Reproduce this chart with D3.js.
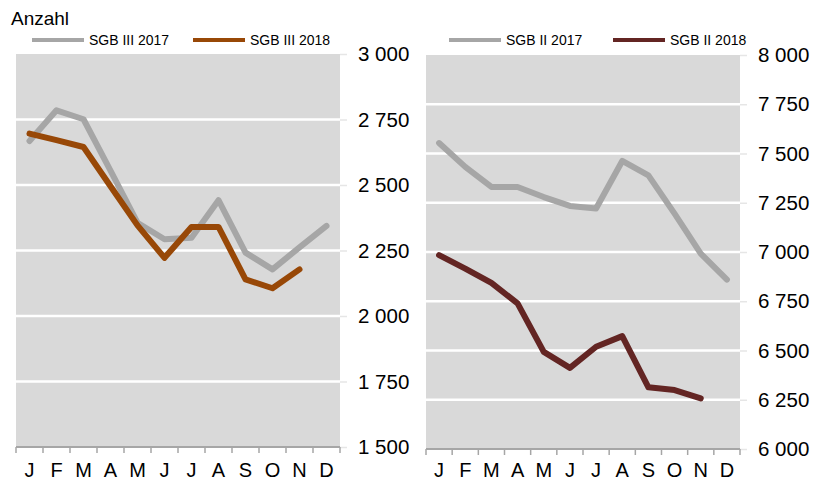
<!DOCTYPE html>
<html>
<head>
<meta charset="utf-8">
<script src="https://cdn.jsdelivr.net/npm/d3@7"></script>
<style>
  html, body { margin: 0; padding: 0; background: #fff; }
  svg { display: block; font-family: "Liberation Sans", Arial, sans-serif; }
</style>
</head>
<body>
<svg id="chart" width="818" height="481"></svg>
<script>
/* ── data ───────────────────────────────────────────── */
const months = ["J", "F", "M", "A", "M", "J", "J", "A", "S", "O", "N", "D"];

const sgb3_2017 = [2668, 2785, 2751, 2555, 2356, 2293, 2299, 2442, 2242, 2178, 2262, 2344];
const sgb3_2018 = [2696, 2671, 2645, 2495, 2346, 2222, 2340, 2340, 2140, 2106, 2178];

const sgb2_2017 = [7553, 7432, 7330, 7330, 7279, 7234, 7221, 7462, 7389, 7195, 6992, 6860];
const sgb2_2018 = [6984, 6916, 6843, 6739, 6493, 6412, 6519, 6573, 6313, 6299, 6257];

const ticksLeft  = [1500, 1750, 2000, 2250, 2500, 2750, 3000];
const ticksRight = [6000, 6250, 6500, 6750, 7000, 7250, 7500, 7750, 8000];

/* ── style ──────────────────────────────────────────── */
const GRAY   = "#a6a6a6";
const ORANGE = "#984807";
const DARKRED = "#632523";
const BG     = "#d9d9d9";

const fmt = v => d3.format(",")(v).replace(",", " ");

const svg = d3.select("#chart");

svg.append("text")
  .attr("x", 11).attr("y", 25)
  .attr("font-size", 19)
  .attr("fill", "#000")
  .text("Anzahl");

function drawPanel(cfg) {
  const x = d3.scaleBand()
    .domain(d3.range(12))
    .range([cfg.left, cfg.right]);

  const y = d3.scaleLinear()
    .domain([cfg.ticks[0], cfg.ticks[cfg.ticks.length - 1]])
    .range([cfg.bottom, cfg.top]);

  const g = svg.append("g");

  g.append("rect")
    .attr("x", cfg.left).attr("y", cfg.top)
    .attr("width", cfg.right - cfg.left)
    .attr("height", cfg.bottom - cfg.top)
    .attr("fill", BG);

  // gridlines
  g.selectAll(".grid")
    .data(cfg.ticks.slice(1, -1))
    .join("line")
    .attr("x1", cfg.left).attr("x2", cfg.right)
    .attr("y1", d => y(d)).attr("y2", d => y(d))
    .attr("stroke", "#fff")
    .attr("stroke-width", 2.5);

  // right axis
  const ax = g.append("g")
    .attr("transform", `translate(${cfg.right},0)`)
    .call(d3.axisRight(y).tickValues(cfg.ticks).tickSize(7).tickPadding(11).tickFormat(fmt));
  ax.select(".domain").remove();
  ax.selectAll("line").attr("stroke", "#e6e6e6").attr("stroke-width", 1.5);
  ax.selectAll("text")
    .attr("font-size", 20.5)
    .attr("font-family", "Liberation Sans, Arial, sans-serif")
    .attr("fill", "#000");

  // bottom axis
  const bx = g.append("g");
  bx.append("line")
    .attr("x1", cfg.left).attr("x2", cfg.right)
    .attr("y1", cfg.bottom).attr("y2", cfg.bottom)
    .attr("stroke", GRAY).attr("stroke-width", 2);
  bx.selectAll(".bt")
    .data(d3.range(13))
    .join("line")
    .attr("x1", i => cfg.left + i * x.bandwidth())
    .attr("x2", i => cfg.left + i * x.bandwidth())
    .attr("y1", cfg.bottom).attr("y2", cfg.bottom + 6)
    .attr("stroke", GRAY).attr("stroke-width", 1.5);
  bx.selectAll(".ml")
    .data(months)
    .join("text")
    .attr("x", (d, i) => x(i) + x.bandwidth() / 2)
    .attr("y", 477)
    .attr("text-anchor", "middle")
    .attr("font-size", 20)
    .attr("fill", "#000")
    .text(d => d);

  const line = d3.line()
    .x((d, i) => x(i) + x.bandwidth() / 2)
    .y(d => y(d));

  cfg.series.forEach(s => {
    g.append("path")
      .datum(s.values)
      .attr("d", line)
      .attr("fill", "none")
      .attr("stroke", s.color)
      .attr("stroke-width", 6)
      .attr("stroke-linejoin", "round")
      .attr("stroke-linecap", "round");
  });

  // legend
  cfg.series.forEach(s => {
    svg.append("line")
      .attr("x1", s.lx).attr("x2", s.lx + 52)
      .attr("y1", 40).attr("y2", 40)
      .attr("stroke", s.color).attr("stroke-width", 4);
    svg.append("text")
      .attr("x", s.lx + 57).attr("y", 45)
      .attr("font-size", 14)
      .attr("fill", "#000")
      .text(s.name);
  });
}

drawPanel({
  left: 16, right: 340, top: 54, bottom: 447,
  ticks: ticksLeft,
  series: [
    { name: "SGB III 2017", values: sgb3_2017, color: GRAY,   lx: 32 },
    { name: "SGB III 2018", values: sgb3_2018, color: ORANGE, lx: 193 }
  ]
});

drawPanel({
  left: 426, right: 740, top: 55, bottom: 449,
  ticks: ticksRight,
  series: [
    { name: "SGB II 2017", values: sgb2_2017, color: GRAY,    lx: 449 },
    { name: "SGB II 2018", values: sgb2_2018, color: DARKRED, lx: 613 }
  ]
});
</script>
</body>
</html>
